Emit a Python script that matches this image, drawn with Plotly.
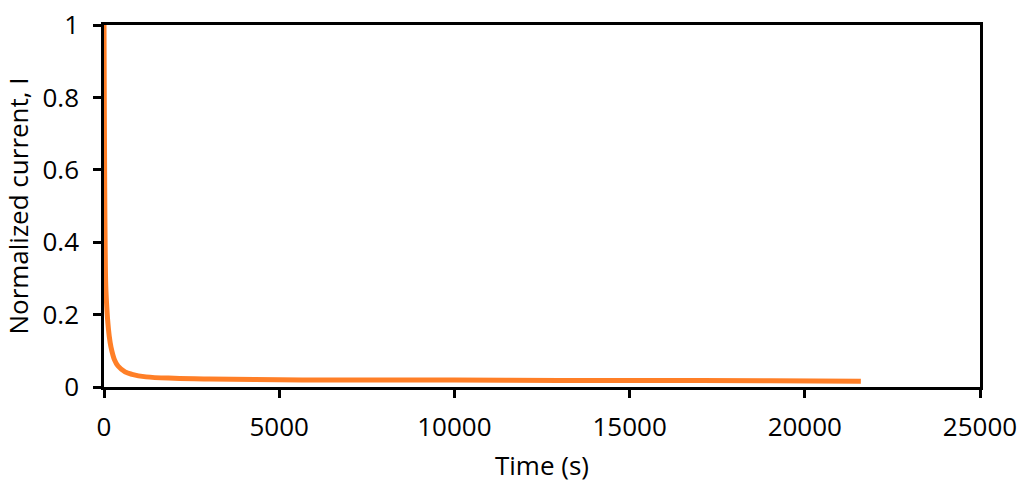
import plotly.graph_objects as go

# Chronoamperometry decay, values.
time_s = [0, 10, 20, 30, 50, 80, 100, 150, 200, 300, 400, 600, 800, 1200,
          2000, 3000, 5000, 7000, 10000, 13000, 16000, 19000, 21600]
current = [1.0, 0.75, 0.55, 0.42, 0.28, 0.22, 0.19, 0.14, 0.11, 0.075, 0.058,
           0.042, 0.035, 0.028, 0.024, 0.022, 0.020, 0.019, 0.019, 0.018,
           0.018, 0.017, 0.016]

x_ticks = [0, 5000, 10000, 15000, 20000, 25000]
y_ticks = [0, 0.2, 0.4, 0.6, 0.8, 1]

fig = go.Figure()
fig.add_trace(go.Scatter(x=time_s, y=current, mode="lines",
                         line=dict(color="#FF7F27", width=5, shape="spline"),
                         showlegend=False))

axis_style = dict(showgrid=False, zeroline=False, showline=True,
                  linecolor="black", linewidth=2.5, mirror=True,
                  ticks="outside", ticklen=8, tickwidth=2.5, tickcolor="black",
                  tickfont=dict(size=26, color="black"), automargin=False)

fig.update_xaxes(range=[0, 25000], tickvals=x_ticks,
                 ticktext=[str(v) for v in x_ticks], ticklabelstandoff=7,
                 title=dict(text="Time (s)", font=dict(size=26, color="black"),
                            standoff=14),
                 **axis_style)
fig.update_yaxes(range=[0, 1], tickvals=y_ticks,
                 ticktext=["0", "0.2", "0.4", "0.6", "0.8", "1"],
                 ticklabelstandoff=9,
                 title=dict(text="Normalized current, I",
                            font=dict(size=26, color="black"), standoff=18),
                 **axis_style)

fig.update_layout(width=1024, height=483,
                  margin=dict(l=104, r=44, t=25, b=96),
                  font=dict(family="Open Sans"),
                  plot_bgcolor="white", paper_bgcolor="white")

# the page's default body margin would shift the chart by 8px
fig.write_html("out.html", config={"displayModeBar": False},
               post_script="document.body.style.margin='0px';")
